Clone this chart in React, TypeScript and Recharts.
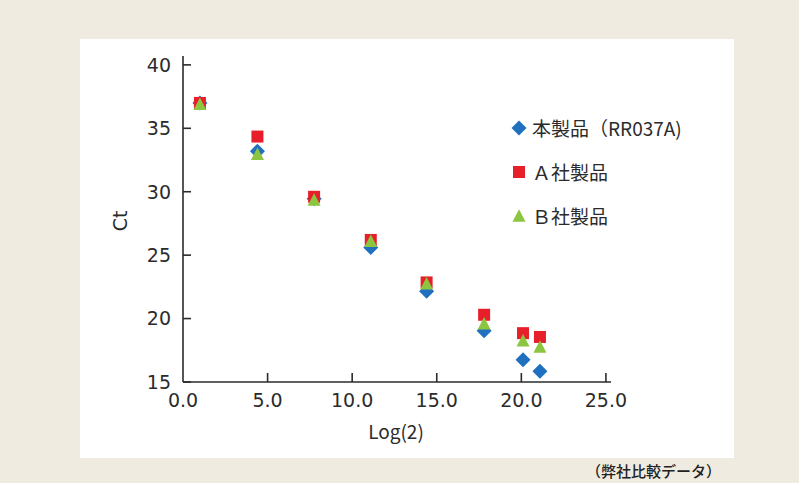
import React from 'react';
import { ScatterChart, Scatter, XAxis, YAxis, Legend, Label } from 'recharts';

const seriesNames = ['本製品（RR037A)', 'Ａ社製品', 'Ｂ社製品'];
const seriesColors = ['#1f70be', '#e61f2b', '#8cc53f'];
const seriesShapes = ['diamond', 'square', 'triangle'];

const xValues = [1.0, 4.4, 7.75, 11.1, 14.4, 17.8, 20.1, 21.1];
const ownValues = [37.0, 33.2, 29.45, 25.6, 22.15, 19.05, 16.75, 15.85];
const companyAValues = [37.0, 34.35, 29.6, 26.2, 22.85, 20.3, 18.85, 18.55];
const companyBValues = [36.9, 32.95, 29.35, 26.1, 22.75, 19.6, 18.25, 17.75];

const xTicks = [0, 5, 10, 15, 20, 25];
const yTicks = [15, 20, 25, 30, 35, 40];

const toPoints = (ys: number[]) => xValues.map((x, i) => ({ x, y: ys[i] }));
const seriesData = [toPoints(ownValues), toPoints(companyAValues), toPoints(companyBValues)];

const TEXT = '#2b2b2b';
const NUM_FONT = '"DejaVu Sans", sans-serif';
const JP_FONT = '"Noto Sans CJK JP", sans-serif';

const drawShape = (kind: string, cx: number, cy: number, color: string) => {
  if (kind === 'diamond') {
    const r = 7.5;
    return <polygon points={`${cx},${cy - r} ${cx + r},${cy} ${cx},${cy + r} ${cx - r},${cy}`} fill={color} />;
  }
  if (kind === 'square') {
    const h = 6;
    return <rect x={cx - h} y={cy - h} width={h * 2} height={h * 2} fill={color} />;
  }
  const w = 6.5;
  const ht = 11.5;
  return (
    <polygon
      points={`${cx},${cy - ht / 2 - 1} ${cx + w},${cy + ht / 2} ${cx - w},${cy + ht / 2}`}
      fill={color}
    />
  );
};

const makeShape = (kind: string, color: string) => (props: any) => {
  const { cx, cy } = props;
  if (cx == null || cy == null) return <g />;
  return drawShape(kind, cx, cy, color);
};

const YTick = (props: any) => {
  const { x, y, payload } = props;
  return (
    <g>
      <line x1={x} y1={y} x2={x + 8} y2={y} stroke={TEXT} strokeWidth={1.6} />
      <text x={x - 12} y={y} dy="0.36em" textAnchor="end" fontSize={19} fontFamily={NUM_FONT} fill={TEXT}>
        {payload.value}
      </text>
    </g>
  );
};

const XTick = (props: any) => {
  const { x, y, payload } = props;
  return (
    <g>
      {payload.value !== 0 && <line x1={x} y1={y} x2={x} y2={y - 9} stroke={TEXT} strokeWidth={1.6} />}
      <text x={x} y={y + 25} textAnchor="middle" fontSize={19} fontFamily={NUM_FONT} fill={TEXT}>
        {Number(payload.value).toFixed(1)}
      </text>
    </g>
  );
};

const renderLegend = () => (
  <div style={{ fontFamily: JP_FONT, fontSize: 19, color: TEXT, lineHeight: '22px' }}>
    {seriesNames.map((name, i) => (
      <div key={name} style={{ display: 'flex', alignItems: 'center', height: 22, marginBottom: i < 2 ? 22 : 0 }}>
        <svg width={18} height={18} style={{ marginRight: 4 }}>
          {drawShape(seriesShapes[i], 9, 9, seriesColors[i])}
        </svg>
        <span>{name}</span>
      </div>
    ))}
  </div>
);

export default function App() {
  return (
    <div style={{ position: 'absolute', left: 0, top: 0, width: 799, height: 483, background: '#efebe1', overflow: 'hidden' }}>
      <div style={{ position: 'absolute', left: 80, top: 39, width: 654, height: 419, background: '#ffffff' }} />
      <div style={{ position: 'absolute', left: 0, top: 0 }}>
        <ScatterChart width={799} height={483} margin={{ top: 56, right: 188, bottom: 71, left: 0 }}>
          <XAxis
            type="number"
            dataKey="x"
            domain={[0, 25.3]}
            ticks={xTicks}
            tick={<XTick />}
            tickLine={false}
            tickSize={0}
            tickMargin={0}
            height={30}
            axisLine={{ stroke: TEXT, strokeWidth: 1.6 }}
            interval={0}
          >
            <Label
              content={() => (
                <text x={396} y={439} textAnchor="middle" fontSize={19} fontFamily={JP_FONT} fill={TEXT}>
                  Log(2)
                </text>
              )}
            />
          </XAxis>
          <YAxis
            type="number"
            dataKey="y"
            domain={[15, 40.7]}
            ticks={yTicks}
            tick={<YTick />}
            tickLine={false}
            tickSize={0}
            tickMargin={0}
            width={183}
            axisLine={{ stroke: TEXT, strokeWidth: 1.6 }}
            interval={0}
          >
            <Label
              content={() => (
                <text
                  x={120}
                  y={221}
                  transform="rotate(-90 120 221)"
                  textAnchor="middle"
                  dy="0.35em"
                  fontSize={19}
                  fontFamily={NUM_FONT}
                  fill={TEXT}
                >
                  Ct
                </text>
              )}
            />
          </YAxis>
          <Legend
            layout="horizontal"
            verticalAlign="middle"
            align="center"
            content={renderLegend}
            wrapperStyle={{ position: 'absolute', left: 510, top: 117, width: 220, height: 120 }}
          />
          {seriesData.map((data, i) => (
            <Scatter
              key={seriesNames[i]}
              name={seriesNames[i]}
              data={data}
              fill={seriesColors[i]}
              shape={makeShape(seriesShapes[i], seriesColors[i])}
              isAnimationActive={false}
            />
          ))}
        </ScatterChart>
      </div>
      <div
        style={{
          position: 'absolute',
          left: 586,
          top: 461,
          fontFamily: JP_FONT,
          fontSize: 15,
          fontWeight: 500,
          color: '#222',
          whiteSpace: 'nowrap',
          lineHeight: '20px',
        }}
      >
        （弊社比較データ）
      </div>
    </div>
  );
}
